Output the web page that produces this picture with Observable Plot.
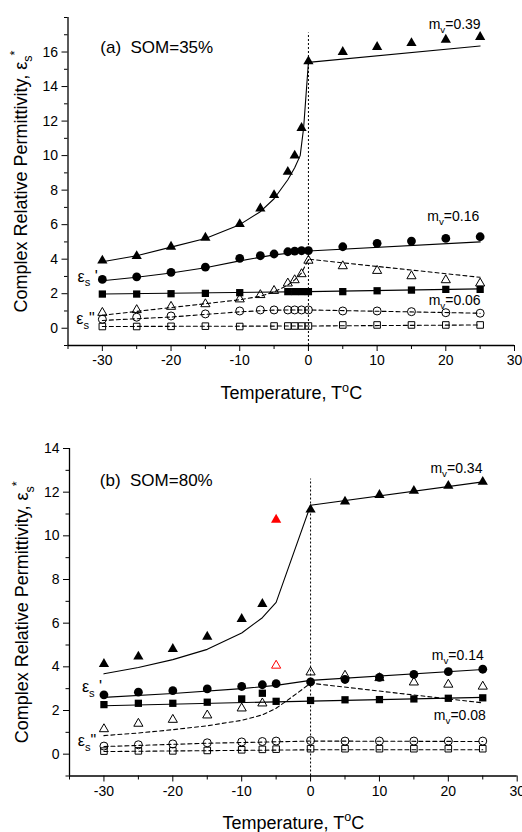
<!DOCTYPE html>
<html><head><meta charset="utf-8">
<script src="https://cdn.jsdelivr.net/npm/d3@7"></script>
<script src="https://cdn.jsdelivr.net/npm/@observablehq/plot@0.6"></script>
<style>
body{margin:0;background:#fff;}
#chart{width:522px;height:832px;overflow:hidden;}
#chart svg{display:block;}
</style></head><body><div id="chart"></div>
<script>
// ---------- Panel (a) SOM=35% ----------
const tempA = [-30,-25,-20,-15,-10,-7,-5,-3,-2,-1,0,5,10,15,20,25];
const aReal039 = [3.92,4.18,4.72,5.24,6.03,6.94,7.71,9.06,10.0,11.6,15.46,16.0,16.29,16.52,16.71,16.87];
const aReal016 = [2.83,2.98,3.24,3.54,4.05,4.2,4.3,4.43,4.47,4.49,4.5,4.72,4.92,5.05,5.2,5.3];
const aReal006 = [1.98,1.98,2.0,2.02,2.06,null,null,2.12,2.12,2.12,2.12,2.12,2.17,2.21,2.25,2.25];
const aImag039 = [0.9,1.06,1.25,1.4,1.68,1.93,2.17,2.6,2.79,3.14,3.92,3.6,3.33,3.02,2.79,2.6];
const aImag016 = [0.52,0.64,0.71,0.83,1.0,1.06,1.06,1.06,1.06,1.06,1.06,1.0,1.0,0.96,0.9,0.87];
const aImag006 = [0.1,0.1,0.11,0.12,0.1,null,0.13,0.13,0.13,0.13,0.13,0.19,0.19,0.19,0.19,0.19];
// fitted curves (a)
const aFitT039 = [-30,-25,-20,-15,-10,-7,-5,-3,-2,-1.2,-0.7,0,25];
const aFitReal039 = [3.85,4.2,4.7,5.2,6.0,6.75,7.5,8.6,9.3,10.0,11.6,15.4,16.35];
const aFitT016 = [-30,-25,-20,-15,-10,-5,0,25];
const aFitReal016 = [2.75,2.95,3.2,3.5,3.9,4.25,4.47,5.0];
const aFitT006 = [-30,0,25];
const aFitReal006 = [1.98,2.12,2.28];
const aFitTImag039 = [-30,-20,-15,-10,-7,-5,-3,-2,-1,0,25];
const aFitImag039 = [0.75,1.2,1.42,1.65,1.85,2.1,2.5,2.8,3.2,4.0,2.95];
const aFitTImag016 = [-30,-20,-10,-5,0,25];
const aFitImag016 = [0.45,0.65,0.95,1.05,1.06,0.87];
const aFitTImag006 = [-30,0,25];
const aFitImag006 = [0.1,0.13,0.19];

// ---------- Panel (b) SOM=80% ----------
const tempB = [-30,-25,-20,-15,-10,-7,-5,0,5,10,15,20,25];
const bReal034 = [4.13,4.47,4.82,5.38,6.19,6.88,null,11.2,11.57,11.87,12.06,12.29,12.47];
const bReal014 = [2.72,2.84,2.91,2.99,3.1,3.18,3.23,3.31,3.42,3.52,3.65,3.78,3.89];
const bReal008 = [2.27,2.33,2.33,2.38,2.53,2.79,2.42,2.46,2.49,2.5,2.53,2.56,2.58];
const bImag034 = [1.15,1.4,1.58,1.78,2.1,2.33,null,3.75,3.6,3.49,3.29,3.19,3.1];
const bImag014 = [0.37,0.43,0.47,0.52,0.56,0.58,0.6,0.62,0.6,0.6,0.6,0.6,0.6];
const bImag008 = [0.14,0.15,0.15,0.17,0.2,0.22,0.23,0.25,0.25,0.25,0.25,0.25,0.25];
const bOutlierT = [-5];
const bOutlierReal = [10.74];
const bOutlierImag = [4.06];
// fitted curves (b)
const bFitT034 = [-30,-25,-20,-15,-10,-7,-5,0,25];
const bFitReal034 = [3.68,3.97,4.33,4.8,5.55,6.25,6.95,11.4,12.47];
const bFitT014 = [-30,-20,-10,-5,0,25];
const bFitReal014 = [2.6,2.78,3.0,3.15,3.38,3.88];
const bFitT008 = [-30,0,25];
const bFitReal008 = [2.22,2.43,2.6];
const bFitTImag034 = [-30,-25,-20,-15,-10,-7,-5,-3,0,25];
const bFitImag034 = [0.85,0.97,1.12,1.3,1.55,1.8,2.1,2.55,3.25,2.35];
const bFitTImag014 = [-30,-15,0,25];
const bFitImag014 = [0.35,0.5,0.6,0.58];
const bFitTImag008 = [-30,0,25];
const bFitImag008 = [0.12,0.2,0.2];

// tick values
const xMajor = [-30,-20,-10,0,10,20,30];
const xMinor = [-35,-25,-15,-5,5,15,25];
const yMajorA = [0,2,4,6,8,10,12,14,16];
const yMinorA = [-1,1,3,5,7,9,11,13,15,17,18];
const yMajorB = [0,2,4,6,8,10,12,14];
const yMinorB = [-1,1,3,5,7,9,11,13];

const rows = (ts, vs) => ts.map((t, i) => ({t, v: vs[i]}));
const FONT = "'Liberation Sans', Arial, Helvetica, sans-serif";

function panel(o) {
  const marks = [];
  marks.push(Plot.ruleX([0], {y1: o.yDomain[0], y2: o.divTop, stroke: "black", strokeWidth: 1, strokeDasharray: "2,2"}));
  for (const f of o.fits) {
    marks.push(Plot.line(rows(f.t, f.v), {x: "t", y: "v", stroke: "black", strokeWidth: 1.1,
      ...(f.dashed ? {strokeDasharray: "4,3"} : {})}));
  }
  for (const s of o.series) {
    const col = s.color || "black";
    marks.push(Plot.dot(rows(s.t || o.temps, s.v), {x: "t", y: "v", symbol: s.symbol, r: s.r,
      fill: s.open ? "none" : col, stroke: s.open ? col : "none", strokeWidth: 1}));
  }
  marks.push(Plot.ruleX([-35], {y1: o.yDomain[0], y2: o.yDomain[1], stroke: "black", strokeWidth: 1.3}));
  marks.push(Plot.ruleY([o.yDomain[0]], {x1: -35, x2: 30, stroke: "black", strokeWidth: 1.3}));
  marks.push(Plot.axisX(xMajor, {tickSize: 6, tickPadding: 4, tickFormat: d => String(d), label: null, fontSize: 14}));
  marks.push(Plot.axisX(xMinor, {tickSize: 4, tickFormat: () => "", label: null}));
  marks.push(Plot.axisY(o.yMajor, {tickSize: 6, tickPadding: 4, tickFormat: d => String(d), label: null, fontSize: 14}));
  marks.push(Plot.axisY(o.yMinor, {tickSize: 3.5, tickFormat: () => "", label: null}));
  for (const a of o.notes) {
    marks.push(Plot.text([a], {x: "t", y: "v", text: "s", textAnchor: "start", fontSize: a.fs, fill: "black"}));
  }
  marks.push(Plot.text(["Temperature, T^oC"], {frameAnchor: "bottom", textAnchor: "middle", lineAnchor: "middle", dy: o.xLabelDy, fontSize: 18, fill: "black"}));
  marks.push(Plot.text(["Complex Relative Permittivity, ε_s^*"], {frameAnchor: "left", textAnchor: "middle", lineAnchor: "middle", dx: -47, rotate: -90, fontSize: 18, fill: "black"}));
  return Plot.plot({
    width: 522, height: o.height,
    marginTop: o.mt, marginBottom: o.mb, marginLeft: o.ml, marginRight: o.mr,
    x: {domain: [-35, 30]},
    y: {domain: o.yDomain},
    style: {fontFamily: FONT, fontSize: "14px", background: "white", color: "black", overflow: "visible"},
    marks
  });
}

function richify(el) {
  const s = el.textContent;
  if (!/[_^]/.test(s)) return;
  const fs = parseFloat(getComputedStyle(el).fontSize) || 14;
  const segs = [];
  for (let i = 0; i < s.length; i++) {
    const c = s[i];
    if ((c === "_" || c === "^") && i + 1 < s.length) { segs.push({k: c === "_" ? "sub" : "sup", t: s[i + 1]}); i++; }
    else { const last = segs[segs.length - 1]; if (last && last.k === "n") last.t += c; else segs.push({k: "n", t: c}); }
  }
  while (el.firstChild) el.removeChild(el.firstChild);
  let cur = 0;
  for (const g of segs) {
    const target = g.k === "sub" ? 0.3 * fs : g.k === "sup" ? -0.42 * fs : 0;
    const ts = document.createElementNS("http://www.w3.org/2000/svg", "tspan");
    const d = target - cur;
    if (d) ts.setAttribute("dy", d);
    if (g.k !== "n") ts.setAttribute("font-size", (0.7 * fs) + "px");
    ts.textContent = g.t;
    el.appendChild(ts);
    cur = target;
  }
}

const panelA = panel({
  height: 416, mt: 17, mb: 71, ml: 67.5, mr: 8,
  yDomain: [-1, 18], yMajor: yMajorA, yMinor: yMinorA, divTop: 17.1, xLabelDy: 48,
  temps: tempA,
  fits: [
    {t: aFitT039, v: aFitReal039}, {t: aFitT016, v: aFitReal016}, {t: aFitT006, v: aFitReal006},
    {t: aFitTImag039, v: aFitImag039, dashed: true}, {t: aFitTImag016, v: aFitImag016, dashed: true},
    {t: aFitTImag006, v: aFitImag006, dashed: true}
  ],
  series: [
    {v: aImag039, symbol: "triangle", r: 3.4, open: true},
    {v: aImag016, symbol: "circle", r: 4.0, open: true},
    {v: aImag006, symbol: "square", r: 3.7, open: true},
    {v: aReal039, symbol: "triangle", r: 3.8},
    {v: aReal016, symbol: "circle", r: 4.4},
    {v: aReal006, symbol: "square", r: 4.1}
  ],
  notes: [
    {t: -30.3, v: 16.27, s: "(a)  SOM=35%", fs: 17},
    {t: 17.5, v: 17.6, s: "m_v=0.39", fs: 14},
    {t: 17.3, v: 6.5, s: "m_v=0.16", fs: 14},
    {t: 17.5, v: 1.6, s: "m_v=0.06", fs: 14},
    {t: -33.6, v: 3.0, s: "ε_s '", fs: 16},
    {t: -33.8, v: 0.54, s: "ε_s\"", fs: 16}
  ]
});

const panelB = panel({
  height: 416, mt: 32, mb: 56.5, ml: 69, mr: 5.3,
  yDomain: [-1, 14], yMajor: yMajorB, yMinor: yMinorB, divTop: 12.6, xLabelDy: 47,
  temps: tempB,
  fits: [
    {t: bFitT034, v: bFitReal034}, {t: bFitT014, v: bFitReal014}, {t: bFitT008, v: bFitReal008},
    {t: bFitTImag034, v: bFitImag034, dashed: true}, {t: bFitTImag014, v: bFitImag014, dashed: true},
    {t: bFitTImag008, v: bFitImag008, dashed: true}
  ],
  series: [
    {v: bImag034, symbol: "triangle", r: 3.4, open: true},
    {v: bImag014, symbol: "circle", r: 4.0, open: true},
    {v: bImag008, symbol: "square", r: 3.7, open: true},
    {v: bReal034, symbol: "triangle", r: 3.8},
    {v: bReal014, symbol: "circle", r: 4.4},
    {v: bReal008, symbol: "square", r: 4.1},
    {t: bOutlierT, v: bOutlierReal, symbol: "triangle", r: 3.8, color: "#ff0000"},
    {t: bOutlierT, v: bOutlierImag, symbol: "triangle", r: 3.4, open: true, color: "#ff0000"}
  ],
  notes: [
    {t: -30.6, v: 12.52, s: "(b)  SOM=80%", fs: 17},
    {t: 17.4, v: 13.1, s: "m_v=0.34", fs: 14},
    {t: 17.6, v: 4.52, s: "m_v=0.14", fs: 14},
    {t: 17.9, v: 1.77, s: "m_v=0.08", fs: 14},
    {t: -33.2, v: 3.07, s: "ε_s '", fs: 16},
    {t: -33.8, v: 0.6, s: "ε_s\"", fs: 16}
  ]
});

const root = document.getElementById("chart");
root.appendChild(panelA);
root.appendChild(panelB);
root.querySelectorAll("text").forEach(richify);
</script></body></html>
